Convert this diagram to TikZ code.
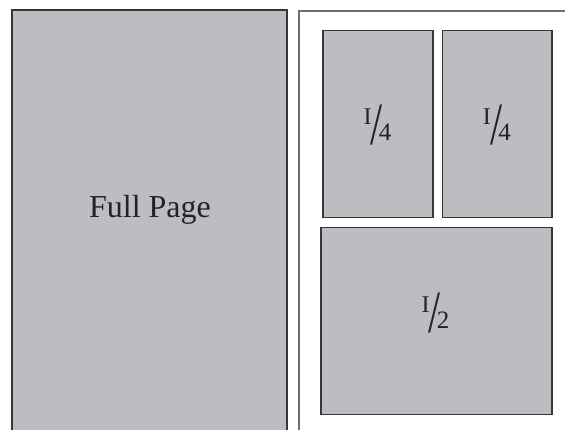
\documentclass[tikz,border=0pt]{standalone}
\usepackage{fontspec}
\usepackage{graphicx}
\setmainfont{Liberation Serif}
\definecolor{panelfill}{RGB}{188,189,193}
\definecolor{paneldraw}{RGB}{55,55,58}
\definecolor{pagedraw}{RGB}{110,110,114}
\definecolor{inkc}{RGB}{35,35,38}
\newcommand{\ofrac}[1]{%
\rlap{\kern-3.2pt\raisebox{19.7pt}{\makebox[0pt]{\fontsize{24}{24}\selectfont I}}}%
\rlap{\raisebox{0pt}{\scalebox{0.72}[1]{\fontsize{60}{60}\selectfont /}}}%
\rlap{\kern 14.5pt\raisebox{4.5pt}{\makebox[0pt]{\fontsize{25}{25}\selectfont #1}}}}
\tikzset{
  panel/.style={draw=paneldraw, fill=panelfill, line width=1.5pt, inner sep=0pt, rectangle},
  pageframe/.style={draw=pagedraw, fill=white, line width=1.8pt, inner sep=0pt, rectangle},
  bigtext/.style={font=\fontsize{32}{32}\selectfont, text=inkc, inner sep=0pt, anchor=base},
  fractext/.style={text=inkc, inner sep=0pt, anchor=base}
}
\begin{document}
\begin{tikzpicture}[x=1pt,y=-1pt]
\useasboundingbox (0,0) rectangle (565,430);
\clip (0,0) rectangle (565,430);
\fill[white] (0,0) rectangle (565,430);
% full page
\node[panel, minimum width=275pt, minimum height=430pt] (full) at (149.5,225) {};
\node[bigtext] (fulltext) at (150,218) {Full Page};
% page with smaller ads
\node[pageframe, minimum width=281pt, minimum height=430pt] (page) at (439.8,225.7) {};
\node[panel, minimum width=110pt, minimum height=186.6pt] (q1) at (378,124) {};
\node[panel, minimum width=109.5pt, minimum height=186.6pt] (q2) at (497.2,124) {};
\node[panel, minimum width=231pt, minimum height=187pt] (half) at (436.5,320.8) {};
\node[fractext] (q1text) at (370.7,144.7) {\ofrac{4}};
\node[fractext] (q2text) at (490,144.7) {\ofrac{4}};
\node[fractext] (halftext) at (428.7,332.7) {\ofrac{2}};
\end{tikzpicture}
\end{document}
